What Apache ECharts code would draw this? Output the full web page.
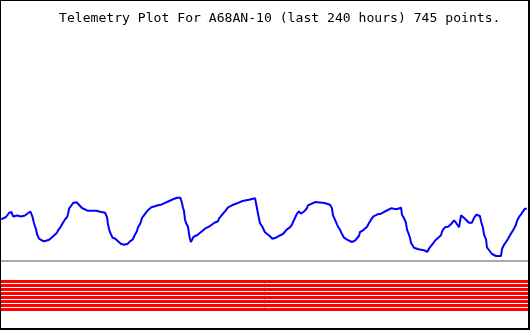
<!DOCTYPE html>
<html>
<head>
<meta charset="utf-8">
<script src="https://cdn.jsdelivr.net/npm/echarts@6/dist/echarts.min.js"></script>
<style>
html,body{margin:0;padding:0;background:#fff;}
#frame{box-sizing:border-box;width:530px;height:330px;border-style:solid;border-color:#000;border-width:1px 2px 2px 1px;}
#chart{width:527px;height:327px;}
</style>
</head>
<body>
<div id="frame"><div id="chart"></div></div>
<script>
var titleText = 'Telemetry Plot For A68AN-10 (last 240 hours) 745 points.';
var hours = [0.0,0.9,2.3,2.7,3.6,4.8,5.5,6.4,7.3,9.1,10.9,12.1,13.4,14.3,15.0,15.5,15.9,16.4,17.3,18.2,19.4,20.5,21.9,22.8,23.9,24.6,25.5,26.0,27.3,28.2,29.1,30.1,30.5,31.0,31.9,32.8,34.4,35.5,36.9,37.3,39.4,41.4,43.3,45.3,47.4,48.3,48.7,49.2,49.6,50.8,52.1,53.3,54.6,56.0,57.8,58.7,59.9,61.0,61.9,62.4,63.3,63.8,64.2,65.1,66.0,66.9,68.5,70.1,71.5,72.9,74.2,75.6,77.6,79.0,80.2,81.7,82.4,82.9,83.3,83.8,84.3,85.2,85.6,86.1,86.5,87.7,89.3,90.2,91.1,92.0,92.9,94.7,95.6,97.2,98.8,99.3,100.2,101.1,102.0,102.9,103.4,104.3,105.2,106.1,107.5,107.9,110.0,112.9,115.7,116.1,117.5,117.9,118.9,119.3,120.2,120.7,122.5,123.6,125.2,127.1,128.4,129.3,130.2,131.6,132.5,133.0,134.3,134.8,135.7,136.2,136.6,137.5,138.4,139.4,139.8,140.7,143.2,147.3,149.8,150.7,151.2,152.1,153.0,153.5,154.4,154.8,156.2,157.6,158.5,159.8,161.2,162.1,163.0,163.5,163.9,164.9,165.8,166.7,167.6,168.5,169.6,171.5,173.1,174.4,174.9,177.6,180.1,182.2,182.6,183.5,184.4,184.9,185.8,186.3,186.7,188.1,190.1,192.6,194.2,194.9,195.8,196.7,197.6,198.6,199.5,200.4,200.8,201.3,202.2,203.6,204.9,205.8,206.3,207.2,207.7,208.6,209.5,209.9,210.4,211.3,212.2,213.1,214.0,214.5,215.4,216.5,218.1,218.6,219.5,220.0,220.9,221.3,222.2,223.6,224.5,225.4,226.3,227.7,228.2,229.1,230.0,230.9,231.8,232.7,233.6,234.5,235.0,235.9,236.8,238.6,239.5];
var values = [108.7,107,111,112.5,115,116,111.5,110,112.5,111.5,112.5,114.5,116.5,111.5,105,103,99,94,89.3,88.3,86.7,87.3,88.3,90.3,92,93.7,95.3,97.7,101.7,105.3,108.3,111,113.7,119.3,122,125,125.7,123.3,120,118.3,117.3,117.3,117.3,116.3,115.3,110.7,104,99.3,96,90.3,89.3,86.7,84.3,83.3,84.3,86.7,88.3,93.3,96.7,100.7,104,106.7,110,112.7,115.3,117.7,120.7,121.7,122.7,123.3,124.7,126,128,129.3,130.3,130.3,125.3,120,117.7,108.3,105,101,94.3,88.7,86,91.3,92.7,94.3,96,97.7,99.3,101.3,103.3,105.3,106.7,109.3,112,113.3,116.7,118.3,120.7,121.3,122.7,123.7,124.7,125.7,127,128.3,129.7,127.7,109.3,105,101.7,100,95.7,93.7,91.7,89.3,90.3,92.7,94,96,98.7,100.7,103.3,106,112,114.3,116.7,115.7,114.3,115.3,117.3,120,122.7,124,126,125,123.3,120,112.7,108.3,103.7,101.3,98.3,96,90.3,88.3,87,86,87.3,89.3,92,96,94.3,97.7,98.3,101.3,105,108.3,111.7,113.7,114.3,116,117.7,119.7,118.7,120.3,113.3,110,105.3,98.3,93.3,90,85.3,80.3,78.7,77.7,76.3,79.3,82,84.3,87.3,89.3,90.3,92.7,96,98.3,100.7,101.3,103.7,105.3,107.7,105.3,104,100.7,112.7,113.3,111.3,109.3,107.3,105.3,103.7,105.3,110,113.3,112,106.7,100,93.3,88.7,80.7,78,74,73.3,72,70.7,72,79.3,83.3,86,89.3,92.7,96,99.3,103.3,107,111,113.7,119.3,119.3];
var refLevel = 67;
var bandRange = [17, 48];
var bandGaps = [44.5, 40.5, 36.5, 32.5, 28.5, 24.5, 20.5];

var seriesData = hours.map(function (h, i) { return [h, values[i]]; });

var chart = echarts.init(document.getElementById('chart'), null, {renderer: 'canvas'});
chart.setOption({
  animation: false,
  backgroundColor: '#ffffff',
  title: {
    text: titleText,
    left: 58,
    top: 11,
    padding: 0,
    textStyle: {fontFamily: 'DejaVu Sans Mono', fontSize: 13.1, fontWeight: 'normal', color: '#000'}
  },
  grid: {left: 0, right: 0, top: 0, bottom: 0, containLabel: false},
  xAxis: {type: 'value', min: 0, max: 240, show: false, splitLine: {show: false}},
  yAxis: {type: 'value', min: 0, max: 327, show: false, splitLine: {show: false}},
  series: [{
    type: 'line',
    data: seriesData,
    showSymbol: false,
    symbol: 'none',
    lineStyle: {color: '#0000ff', width: 2},
    z: 5,
    markArea: {
      silent: true,
      itemStyle: {color: '#ff0000', opacity: 1},
      data: [[{yAxis: bandRange[0]}, {yAxis: bandRange[1]}]]
    },
    markLine: {
      silent: true,
      symbol: ['none', 'none'],
      label: {show: false},
      animation: false,
      data: [{yAxis: refLevel, lineStyle: {color: '#aaaaaa', width: 2, type: 'solid'}}].concat(
        bandGaps.map(function (g) { return {yAxis: g, lineStyle: {color: '#ffffff', width: 1, type: 'solid'}}; })
      )
    }
  }]
});
</script>
</body>
</html>
